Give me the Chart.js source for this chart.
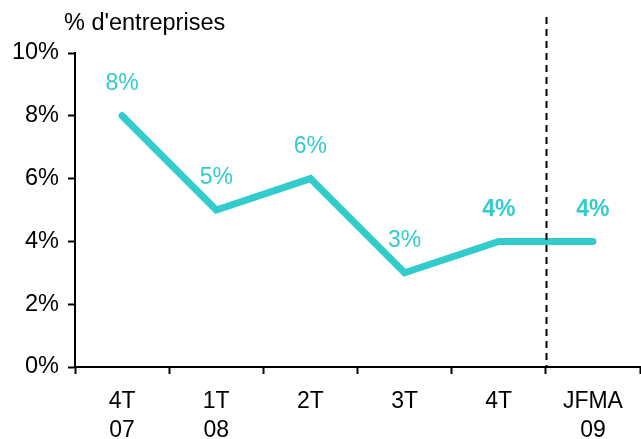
<!DOCTYPE html>
<html>
<head>
<meta charset="utf-8">
<script src="https://cdn.jsdelivr.net/npm/chart.js@4"></script>
<style>
  html, body { margin: 0; padding: 0; background: #fff; }
  #wrap { width: 641px; height: 439px; }
</style>
</head>
<body>
<div id="wrap"><canvas id="chart" width="641" height="439"></canvas></div>
<script>
// --- Data ---
const categories = [['4T', '07'], ['1T', '08'], '2T', '3T', '4T', ['JFMA', '09']];
const shares = [8, 5, 6, 3, 4, 4];
const boldLabels = [false, false, false, false, true, true];
const yTicks = [0, 2, 4, 6, 8, 10];
const unitLabel = "% d'entreprises";

const teal = '#33cccc';
const fontFamily = '"Liberation Sans", Arial, Helvetica, sans-serif';

// --- Plugins ---
const unitTitle = {
  id: 'unitTitle',
  afterDraw(chart) {
    const ctx = chart.ctx;
    ctx.save();
    ctx.font = '23.5px ' + fontFamily;
    ctx.fillStyle = '#000';
    ctx.textBaseline = 'middle';
    ctx.fillText(unitLabel, 64, 24);
    ctx.restore();
  }
};

const splitLine = {
  id: 'splitLine',
  afterDraw(chart) {
    const x = Math.round(chart.scales.x.getPixelForValue(4.5)) + 0.5;
    const ctx = chart.ctx;
    ctx.save();
    ctx.strokeStyle = '#000';
    ctx.lineWidth = 2;
    ctx.setLineDash([7, 5]);
    ctx.beginPath();
    ctx.moveTo(x, 17);
    ctx.lineTo(x, chart.chartArea.bottom);
    ctx.stroke();
    ctx.restore();
  }
};

const valueLabels = {
  id: 'valueLabels',
  afterDatasetsDraw(chart) {
    const ctx = chart.ctx;
    const meta = chart.getDatasetMeta(0);
    ctx.save();
    ctx.fillStyle = teal;
    ctx.textAlign = 'center';
    ctx.textBaseline = 'middle';
    meta.data.forEach((pt, i) => {
      ctx.font = (boldLabels[i] ? 'bold ' : '') + '23px ' + fontFamily;
      ctx.fillText(shares[i] + '%', pt.x, pt.y - 32);
    });
    ctx.restore();
  }
};

new Chart(document.getElementById('chart'), {
  type: 'line',
  data: {
    labels: categories,
    datasets: [{
      data: shares,
      borderColor: teal,
      borderWidth: 7,
      borderCapStyle: 'round',
      borderJoinStyle: 'miter',
      pointRadius: 0,
      tension: 0,
      clip: false
    }]
  },
  options: {
    responsive: false,
    animation: false,
    layout: { padding: { top: 53, right: 1, left: 0, bottom: 0 } },
    plugins: {
      legend: { display: false },
      tooltip: { enabled: false }
    },
    scales: {
      x: {
        offset: true,
        grid: {
          offset: true,
          drawOnChartArea: false,
          drawTicks: true,
          tickLength: 7,
          tickWidth: 2,
          tickColor: '#000'
        },
        border: { color: '#000', width: 2 },
        ticks: {
          color: '#000',
          font: { family: fontFamily, size: 23, lineHeight: 1.27 },
          maxRotation: 0,
          autoSkip: false,
          padding: 13
        },
        afterFit(scale) { scale.height = 72; }
      },
      y: {
        min: 0,
        max: 10,
        afterBuildTicks(scale) { scale.ticks = yTicks.map(v => ({ value: v })); },
        grid: {
          drawOnChartArea: false,
          drawTicks: true,
          tickLength: 7,
          tickWidth: 2,
          tickColor: '#000'
        },
        border: { color: '#000', width: 2 },
        ticks: {
          color: '#000',
          font: { family: fontFamily, size: 23.5 },
          padding: 9,
          callback: v => v + '%'
        },
        afterFit(scale) { scale.width = 75; }
      }
    }
  },
  plugins: [unitTitle, splitLine, valueLabels]
});
</script>
</body>
</html>
